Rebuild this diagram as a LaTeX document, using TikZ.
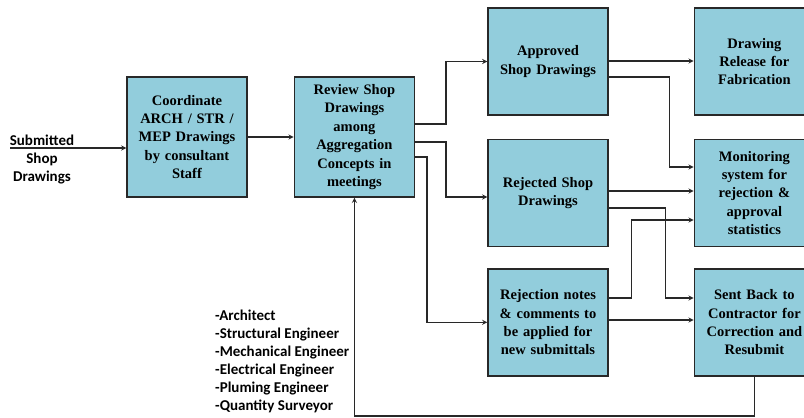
\documentclass[tikz,border=0pt]{standalone}
\usepackage{fontspec}
\setmainfont{Liberation Serif}
\newfontfamily\listfont{Carlito}
\usetikzlibrary{positioning, arrows}

\definecolor{boxblue}{RGB}{146,205,220}
\definecolor{linegray}{RGB}{40,40,40}

\tikzset{
	stepbox/.style={draw=linegray, line width=1.4pt, fill=boxblue, minimum width=120pt,
		minimum height=107pt, text width=112pt, align=center, inner sep=0pt,
		font=\fontsize{14.5}{18.4}\selectfont\bfseries},
	flow/.style={->, >=stealth, draw=linegray, line width=1.3pt},
	side/.style={font=\listfont\fontsize{15}{18}\selectfont\bfseries, inner sep=0pt}
}

\begin{document}
\begin{tikzpicture}[x=1pt, y=1pt]
	\useasboundingbox[fill=white] (0,0) rectangle (804,-418);

	\node[stepbox, minimum height=120pt] (coord) at (187,-137) {Coordinate\\ARCH / STR /\\MEP Drawings\\by consultant\\Staff};
	\node[stepbox, minimum height=120pt, right=46pt of coord] (review) {Review Shop\\Drawings\\among\\Aggregation\\Concepts in\\meetings};

	\node[stepbox] (approved) at (548,-61.5) {Approved\\Shop Drawings};
		\node[stepbox, below=23pt of approved] (rejected) {Rejected Shop\\Drawings};
		\node[stepbox, below=21pt of rejected] (notes) {Rejection notes\\\& comments to\\be applied for\\new submittals};
	\node[stepbox, right=85pt of approved] (release) {Drawing\\Release for\\Fabrication};
		\node[stepbox, right=85pt of rejected] (monitor) {Monitoring\\system for\\rejection \&\\approval\\statistics};
		\node[stepbox, right=85pt of notes] (sentback) {Sent Back to\\Contractor for\\Correction and\\Resubmit};

	\node[side, align=center] (submitted) at (42,-160) {Submitted\\Shop\\Drawings};
	\node[side, align=left, anchor=north west] (team) at (215,-310) {-Architect\\-Structural Engineer\\-Mechanical Engineer\\-Electrical Engineer\\-Pluming Engineer\\-Quantity Surveyor};

	\coordinate (in) at (10,-148);

	\draw[flow] (in) -- (in -| coord.west);
	\draw[flow] (coord.east) -- (review.west);

	\draw[flow] (review.east |- 0,-124) -- ++(31,0) |- (approved.west);
	\draw[flow] (review.east |- 0,-142) -- ++(31,0) |- (rejected.west |- 0,-197);
	\draw[flow] (review.east |- 0,-157) -- ++(12,0) |- (notes.west);

	\draw[flow] (approved.east |- 0,-61) -- (release.west |- 0,-61);
	\draw[flow] (approved.east |- 0,-77) -- ++(61,0) |- (monitor.west |- 0,-167);
	\draw[flow] (rejected.east |- 0,-191) -- (monitor.west |- 0,-191);
	\draw[flow] (rejected.east |- 0,-208) -- ++(57,0) |- (sentback.west |- 0,-298);
	\draw[flow] (notes.east |- 0,-298) -- ++(23,0) |- (monitor.west |- 0,-220);
	\draw[flow] (notes.east |- 0,-320) -- (sentback.west |- 0,-320);

	% feedback loop back to the review meeting
	\draw[flow] (sentback.south) -- (sentback.south |- 0,-416) -| (review.south);
\end{tikzpicture}
\end{document}
